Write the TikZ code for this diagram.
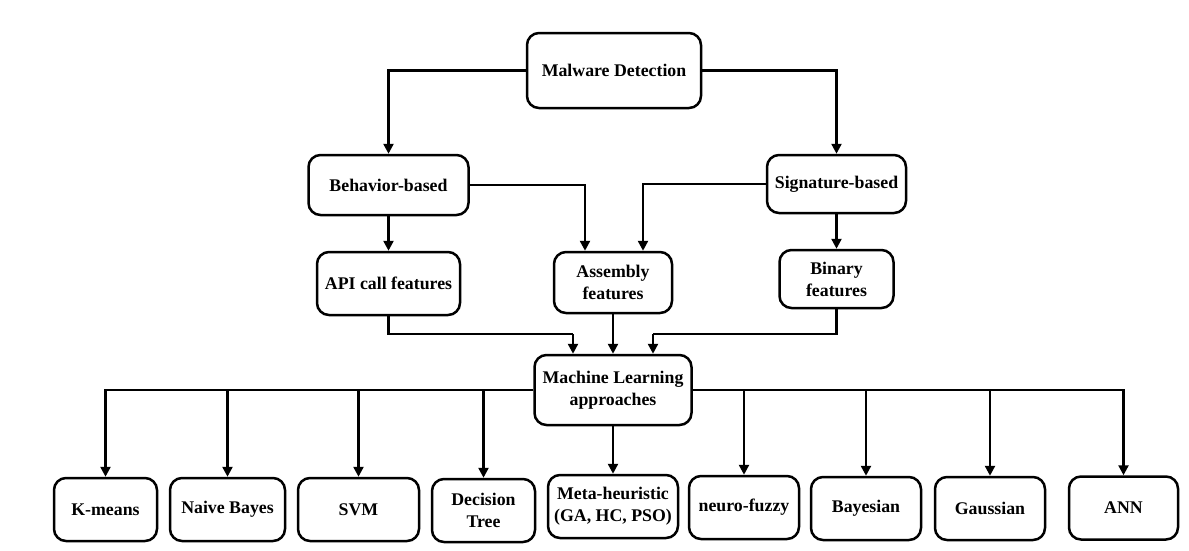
\documentclass[tikz,border=0pt]{standalone}
\usepackage{fontspec}
\setmainfont{Liberation Serif}
\usetikzlibrary{arrows.meta}

\begin{document}
\begin{tikzpicture}[x=1pt,y=-1pt,
  box/.style={draw=black, line width=2.5pt, rounded corners=12pt, fill=white,
    align=center, inner sep=2pt,
    font=\fontsize{17.8}{22}\selectfont\bfseries},
  arr/.style={line width=2.4pt, -{Triangle[length=10pt,width=10pt]}},
  link/.style={line width=2.4pt}]
  \useasboundingbox (0,0) rectangle (1189,550);

  % root and the two detection families
  \node[box, minimum width=174pt, minimum height=75pt] (md) at (614,70.5) {Malware Detection};
  \node[box, minimum width=160pt, minimum height=60pt] (beh) at (388.5,185) {Behavior-based};
  \node[box, minimum width=139pt, minimum height=58pt] (sig) at (836.5,184) {Signature-based};

  % feature types
  \node[box, minimum width=143pt, minimum height=63pt] (api) at (388.5,283.5) {API call features};
  \node[box, minimum width=118pt, minimum height=61pt] (asm) at (613,282.5) {Assembly\\features};
  \node[box, minimum width=114pt, minimum height=58pt] (bin) at (836.5,279) {Binary\\features};

  % learning stage
  \node[box, minimum width=157pt, minimum height=70pt] (ml) at (613,390) {Machine Learning\\approaches};

  % individual methods
  \begin{scope}[every node/.style={box, minimum height=63pt}]
    \node[minimum width=103pt] (km)   at (105.5,509.5) {K-means};
    \node[minimum width=115pt] (nb)   at (227.5,509.5) {Naive Bayes};
    \node[minimum width=121pt] (svm)  at (358.5,509.5) {SVM};
    \node[minimum width=103pt] (dt)   at (483.5,510.5) {Decision\\Tree};
    \node[minimum width=130pt] (meta) at (613,506.5)   {Meta-heuristic\\(GA, HC, PSO)};
    \node[minimum width=110pt] (nf)   at (744,507.5)   {neuro-fuzzy};
    \node[minimum width=110pt] (bay)  at (866,508.5)   {Bayesian};
    \node[minimum width=110pt] (gau)  at (990,508.5)   {Gaussian};
    \node[minimum width=109pt] (ann)  at (1123.5,508)  {ANN};
  \end{scope}

  % junction points
  \coordinate (asmL) at ([xshift=-28pt]asm.north);
  \coordinate (asmR) at ([xshift=30pt]asm.north);
  \coordinate (mlL) at ([xshift=-40pt]ml.north);
  \coordinate (mlR) at ([xshift=40pt]ml.north);
  \coordinate (jL) at (573,334);
  \coordinate (jR) at (653,334);

  % connectors
  \draw[arr] (md.west) -| (beh.north);
  \draw[arr] (md.east) -| (sig.north);
  \draw[arr] (beh.east) -| (asmL);
  \draw[arr] (sig.west) -| (asmR);
  \draw[arr] (beh.south) -- (api.north);
  \draw[arr] (sig.south) -- (bin.north);
  \draw[link] (api.south) |- (jL);
  \draw[arr] (jL) -- (mlL);
  \draw[arr] (asm.south) -- (ml.north);
  \draw[link] (bin.south) |- (jR);
  \draw[arr] (jR) -- (mlR);

  \foreach \t in {km,nb,svm,dt} \draw[arr] (ml.west) -| (\t.north);
  \foreach \t in {nf,bay,gau,ann} \draw[arr] (ml.east) -| (\t.north);
  \draw[arr] (ml.south) -- (meta.north);
\end{tikzpicture}
\end{document}
